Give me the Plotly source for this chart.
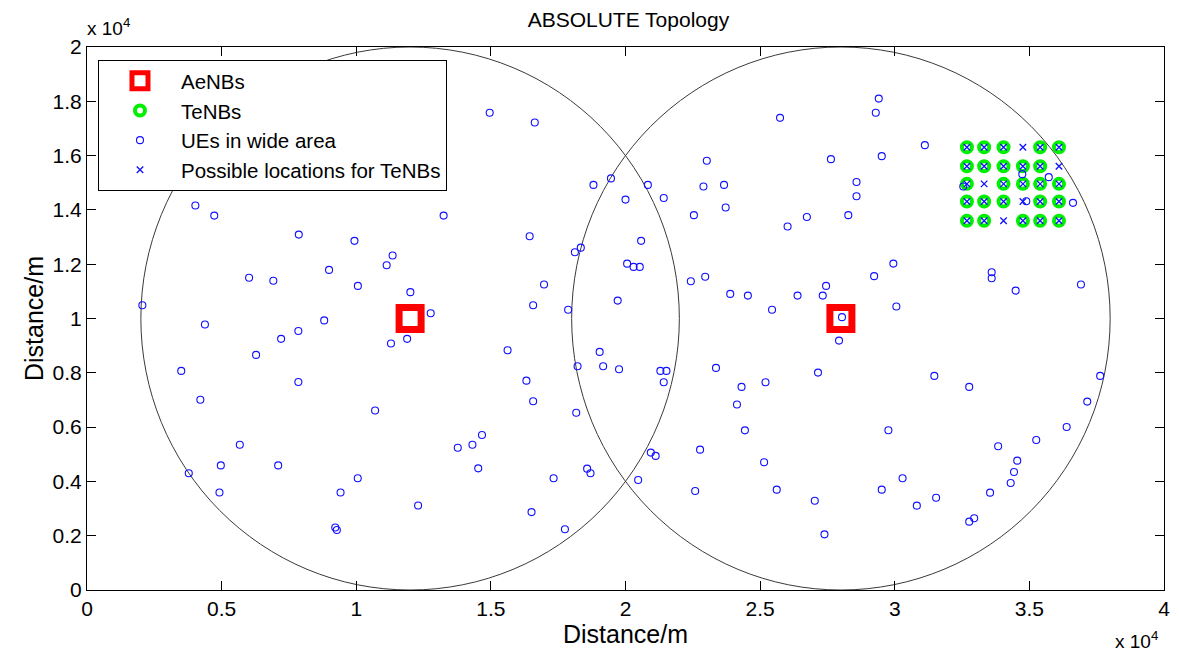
import plotly.graph_objects as go

# ---------------- data (metres) ----------------
aenb_x = [12000, 28000]
aenb_y = [10000, 10000]
cell_radius = 10000

# candidate grid for TeNBs
grid_x = [32680, 33320, 34040, 34760, 35400, 36100]
grid_y = [13600, 14310, 14960, 15610, 16310]
# grid cells (col, row) that are NOT used by a TeNB
unused = [(3, 4), (5, 3), (1, 2), (3, 1), (2, 0)]

ue_x = [
    4025, 4727, 7866, 9934, 11350, 11130, 13245, 6020, 6920, 8990, 10060, 12010, 2056, 12765, 8810,
    4380, 7850, 7210, 6280, 11290, 11890, 3500, 7850, 4210, 10700, 5675, 13770, 14315, 14530, 4970,
    7100, 3780, 10055, 4920, 9417, 12297, 9220, 9280,
    14956, 16630, 18810, 19460, 20830, 20000, 21420, 16440, 18120, 18340, 20580, 20060, 20300, 20530,
    16975, 16570, 17870, 19710, 15620, 19040, 18220, 19170, 19760, 21295, 21520, 21420, 16320, 16570,
    18170, 14670, 17330, 18575, 18700, 20940, 21120, 20470, 16510, 17750,
    25740, 23020, 27630, 28580, 28580, 28275, 22895, 23660, 23720, 22540, 26020, 26736, 22426, 22960,
    23890, 24545, 26390, 27326, 27450, 25443, 28040, 23360, 27930, 27150, 24310, 25200, 24140, 24435,
    22770, 25148, 22588, 25617, 27030, 27390,
    29406, 29295, 31118, 29517, 34737, 35720, 32545, 34885, 36620, 29948, 29234, 33600, 33600, 34490,
    36916, 30060,
    31470, 32766, 37630, 37150, 36385, 35255, 29764, 33840, 34550, 34430, 34306, 30290, 29517, 31536,
    30820, 33540, 32766, 32950,
]
ue_y = [
    14160, 13790, 13090, 12860, 12320, 11960, 13790, 11500, 11390, 11790, 11200, 10970, 10490, 10195, 9930,
    9780, 9540, 9250, 8660, 9080, 9250, 8070, 7660, 7010, 6610, 5350, 5240, 5350, 4480, 4590,
    4590, 4300, 4115, 3590, 3590, 3110, 2300, 2210,
    17576, 17220, 14920, 15160, 14920, 14380, 14440, 13030, 12440, 12610, 12860, 12020, 11900, 11900,
    11250, 10490, 10320, 10660, 8830, 8770, 8240, 8240, 8130, 8070, 8070, 7650, 7710, 6950,
    6530, 5710, 4115, 4470, 4300, 5060, 4940, 4050, 2870, 2235,
    17390, 15810, 15870, 15030, 14505, 13806, 14860, 14920, 14087, 13806, 13387, 13740, 11370, 11540,
    10906, 10844, 10844, 10844, 11200, 10320, 10050, 8180, 9186, 8007, 7480, 7650, 6830, 5880,
    5170, 4705, 3648, 3696, 3290, 2050,
    18100, 17576, 16385, 15980, 15317, 15206, 14860, 14320, 14260, 12023, 11560, 11706, 11485, 11028,
    11250, 10440,
    7885, 7480, 7885, 6940, 6006, 5527, 5884, 5295, 4765, 4348, 3940, 4115, 3696, 3400,
    3107, 3586, 2518, 2640,
]

x_tickvals = [0, 5000, 10000, 15000, 20000, 25000, 30000, 35000, 40000]
x_ticktext = ["0", "0.5", "1", "1.5", "2", "2.5", "3", "3.5", "4"]
y_tickvals = [0, 2000, 4000, 6000, 8000, 10000, 12000, 14000, 16000, 18000, 20000]
y_ticktext = ["0", "0.2", "0.4", "0.6", "0.8", "1", "1.2", "1.4", "1.6", "1.8", "2"]

# ---------------- derived ----------------
poss_x, poss_y, tenb_x, tenb_y = [], [], [], []
for r, gy in enumerate(grid_y):
    for c, gx in enumerate(grid_x):
        poss_x.append(gx)
        poss_y.append(gy)
        if (c, r) not in unused:
            tenb_x.append(gx)
            tenb_y.append(gy)

FONT = "Liberation Sans, Arial, Helvetica, sans-serif"

fig = go.Figure()
fig.add_trace(go.Scatter(
    x=aenb_x, y=aenb_y, mode="markers", name="AeNBs",
    marker=dict(symbol="square-open", size=22, color="#ff0000", line=dict(width=7, color="#ff0000")),
))
fig.add_trace(go.Scatter(
    x=tenb_x, y=tenb_y, mode="markers", name="TeNBs",
    marker=dict(symbol="circle-open", size=10, color="#00f000", line=dict(width=4, color="#00f000")),
))
fig.add_trace(go.Scatter(
    x=ue_x, y=ue_y, mode="markers", name="UEs in wide area",
    marker=dict(symbol="circle-open", size=7, color="#1010ff", line=dict(width=1.1, color="#1010ff")),
))
fig.add_trace(go.Scatter(
    x=poss_x, y=poss_y, mode="markers", name="Possible locations for TeNBs",
    marker=dict(symbol="x-thin-open", size=6.5, color="#1010ff", line=dict(width=1.3, color="#1010ff")),
))

for cx, cy in zip(aenb_x, aenb_y):
    fig.add_shape(type="circle", xref="x", yref="y",
                  x0=cx - cell_radius, x1=cx + cell_radius,
                  y0=cy - cell_radius, y1=cy + cell_radius,
                  line=dict(color="#3a3a3a", width=1), layer="below")

axis_common = dict(
    showline=True, linecolor="black", linewidth=1, mirror="ticks",
    ticks="inside", ticklen=9, tickcolor="black", tickwidth=1,
    showgrid=False, zeroline=False,
    tickfont=dict(family=FONT, size=21, color="black"),
)

fig.update_layout(
    width=1179, height=657,
    margin=dict(l=87, r=9, t=47, b=67),
    paper_bgcolor="white", plot_bgcolor="white",
    font=dict(family=FONT, color="black"),
    title=dict(text="ABSOLUTE Topology", x=0.533, xanchor="center", y=1 - 20 / 657, yanchor="middle",
               font=dict(family=FONT, size=21, color="black")),
    xaxis=dict(range=[0, 40000], tickvals=x_tickvals, ticktext=x_ticktext,
               title=dict(text="Distance/m", font=dict(family=FONT, size=25), standoff=4),
               **axis_common),
    yaxis=dict(range=[0, 20000], tickvals=y_tickvals, ticktext=y_ticktext,
               title=dict(text="Distance/m", font=dict(family=FONT, size=25), standoff=1),
               **axis_common),
    showlegend=True,
    legend=dict(x=0.0102, y=0.976, xanchor="left", yanchor="top",
                bgcolor="white", bordercolor="black", borderwidth=1,
                font=dict(family=FONT, size=20.5, color="black"),
                itemwidth=72, traceorder="normal"),
    annotations=[
        dict(text="x 10<sup>4</sup>", xref="paper", yref="paper", x=-0.002, y=1.037,
             xanchor="left", yanchor="middle", showarrow=False,
             font=dict(family=FONT, size=19, color="black")),
        dict(text="x 10<sup>4</sup>", xref="paper", yref="paper", x=0.953, y=-0.092,
             xanchor="left", yanchor="middle", showarrow=False,
             font=dict(family=FONT, size=19, color="black")),
    ],
)

fig.write_html("out.html")
